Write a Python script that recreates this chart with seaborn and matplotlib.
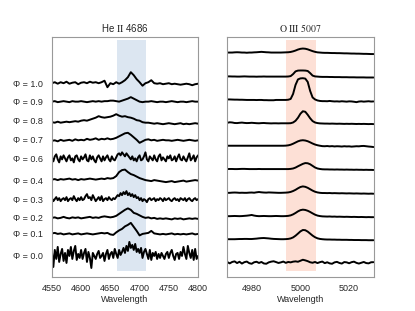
import matplotlib
matplotlib.use("Agg")
import matplotlib.pyplot as plt
import numpy as np
import seaborn as sns

# phases, top to bottom
phases = ["1.0", "0.9", "0.8", "0.7", "0.6", "0.4", "0.3", "0.2", "0.1", "0.0"]

# He II 4686 spectra over 4550-4800 A (flux above each offset)
# quiet ones sampled every 5 A, noisy ones every 2.5 A
he_10 = [0, 1, -0.5, 1, 0, 1.5, -0.5, 0.5, 1, -1,
         0.5, 1, 0, 1.5, 0.5, 1, 0, 1, 2.5, -4,
         0, -1, 1, -0.5, 1, 3, 6, 11, 8, 4,
         1, -2.5, 0, 1, 3, 0, -0.5, 0, -1, -0.5,
         0, -1, -0.5, -1, -1.5, -1, -0.5, -1, -2, -1,
         -0.5]
he_09 = [0, 0.5, -0.5, 0, 0.5, 0, -0.5, 0.5, 0, 0,
         0.5, 0, -0.5, 0, 0.5, 0, 0.5, 0, 0.5, 0.5,
         1, 1, 0.5, 0, 1, 2, 3, 4.5, 3, 1.5,
         0, -0.5, 0, 0, 0.5, 0, -0.5, 0, 0, -0.5,
         0, 0.5, 0, -0.5, 0, 0, -0.5, 0, 0.5, 0,
         0]
he_08 = [-1.5, -2, -1, -2, -1.5, -1, -1.5, -1, -0.5, -1,
         0, 0.5, 0, 1, 2, 3, 4.5, 3.5, 3, 3.5,
         4, 5, 6.5, 5, 4, 4.5, 3.5, 3, 2, 0.5,
         0, -1.5, -2, -2, -2.5, -3, -2.5, -3, -3.5, -3,
         -2.5, -3, -3.5, -3, -2.5, -3.5, -3, -3.5, -3, -2.5,
         -3]
he_07 = [-1.5, -1, -2, -0.5, -1.5, -1, -0.5, -1.5, 0, -1,
         -0.5, -1, 0.5, -0.5, 0, 1, -0.5, 0.5, 0, 1,
         0, 0.5, 1.5, 3, 4.5, 6, 6.5, 4.5, 2, -0.5,
         -3.5, -2, -0.5, 0, -1, -0.5, -1.5, -1, -0.5, -1,
         -1, -1.5, -1, -0.5, -1, -1.5, -1, -0.5, -1, -1.5,
         -1]
he_06 = [1, -3, 2, 4, -1, -4, 2, -1, 3, 0,
         -3, 1, 3, -2, 0, -4, 2, 3, -1, -3,
         2, -1, 1, 4, -2, -3, 3, -1, 2, -2,
         -4, 1, 3, 0, -3, 2, -2, 1, 3, -1,
         -3, 2, -1, -2, 1, 4, 5, 3, 6, 4,
         2, 5, 3, 1, -1, 2, -2, 0, -3, 1,
         3, -2, -1, 2, 6, -1, -3, 2, 0, -2,
         3, -1, -3, 2, 4, -2, 1, -1, -3, 2,
         0, 3, -2, -1, 2, -3, 1, 4, -1, -2,
         2, -1, -3, 1, 5, -2, 0, 3, -3, 1,
         3]
he_04 = [0.5, 1, 0, 1, 0.5, 1, 1.5, 0.5, 1, 0,
         1, 0.5, 1, 1.5, 1, 0.5, 1, 1.5, 1, 2,
         1.5, 2, 4, 8, 10, 10.5, 8, 6, 5, 3.5,
         2, 1, 0, -0.5, -1, 0, -0.5, -1, -1.5, -2,
         -1.5, -1, -2, -1.5, -1, -0.5, -1.5, -1, -0.5, 0,
         -0.5]
he_03 = [1, -2, 0, 2, -1, 1, -2, 0, 1, -1,
         2, -2, 0, 1, -1, 3, 0, -2, 1, -1,
         2, -1, 0, 3, 5, 1, 2, -1, 4, 1,
         -2, 0, 2, -1, 3, -2, 0, 1, -1, 2,
         0, -1, 1, 0, 2, 4, 3, 6, 4, 7,
         5, 8, 4, 6, 3, 5, 2, 4, 1, 2,
         -1, 1, -2, 0, -1, -3, 0, 1, -1, 0,
         1, -2, 0, -1, 1, 0, -2, 1, -1, 0,
         1, -1, -2, 0, 1, -1, 0, -2, 1, 0,
         -1, 1, -2, 0, 1, -1, -2, 0, 1, -1,
         0]
he_02 = [0, 0.5, -0.5, 0, 1, 0, -0.5, 0.5, 0, 0.5,
         -0.5, 0, 0.5, 1, 0, 0.5, 0, 1, 1.5, 1,
         0.5, 1, 2, 4, 6, 8, 9.5, 8, 5, 4,
         2.5, 1, 0, 0.5, -0.5, 0, -1, -0.5, -1, -0.5,
         -1, -1.5, -0.5, -1, -0.5, -1.5, -1, -0.5, -1, -0.5,
         -1]
he_01 = [0.5, 1, 0, 0.5, -0.5, 0, 0.5, -0.5, 0, 0.5,
         -0.5, 0, 0.5, 0, -0.5, 0, 0.5, 1, 0.5, 1,
         -0.5, -1, 1.5, 3.5, 5, 7.5, 9, 11, 7, 3,
         -1.5, 0, 0.5, 1, 3, 0.5, 0, -0.5, 0, -0.5,
         0, 0.5, -0.5, 0, -0.5, 0, -0.5, 0, 0.5, -0.5,
         0]
he_00 = [5, -11, 6, -3, 9, -6, 2, 7, -5, 3,
         -7, 6, 0, 9, -3, 5, 10, -4, 2, -2,
         6, -3, 3, 7, -6, 4, -2, -12, 3, 0,
         -3, 2, 5, -2, 0, 3, -5, 2, 6, -3,
         2, 4, -2, 7, 2, -2, 6, 1, 4, 8,
         3, 10, 5, 14, 8, 11, 6, 12, 4, 7,
         3, 8, -2, 4, 7, 2, -3, 6, -4, 3,
         0, 4, -3, 2, -2, 3, 0, -3, 2, 4,
         -2, 3, 6, 0, -4, 2, 3, -3, 4, 0,
         9, 2, -3, 10, 3, -2, 6, -4, 7, -3,
         0]
heii_flux = [he_10, he_09, he_08, he_07, he_06, he_04, he_03, he_02, he_01, he_00]
heii_offset = [193.2, 174.8, 155.8, 137.2, 118.2, 96.5, 77.5, 58.8, 42.8, 20.8]

# O III 5007 spectra, 4970-5030 A in 1 A steps
o_10 = [0, 0, 0, 0.2, 0.3, 0.2, 0, 0, -0.2, 0,
        0, 0.2, 0.3, 0.5, 0.7, 0.5, 0.3, 0.2, 0, 0,
        0, 0, 0, 0.1, 0.2, 0.3, 0.6, 1.2, 2.0, 3.0,
        3.7, 4.0, 3.8, 3.2, 2.3, 1.4, 0.7, 0.2, 0, -0.2,
        -0.3, -0.3, -0.4, -0.5, -0.5, -0.6, -0.6, -0.7, -0.8, -0.8,
        -0.9, -1.0, -1.0, -1.1, -1.1, -1.2, -1.3, -1.3, -1.4, -1.5,
        -1.5]
o_09 = [0.2, 0.2, 0.1, 0.1, 0, 0, 0.1, 0.2, 0.1, 0,
        0, 0, -0.1, 0, 0, 0.1, 0, 0, 0, 0,
        0, 0, 0, 0, 0, 0.1, 0.5, 2.5, 5.2, 6.0,
        6.1, 6.1, 6.0, 5.6, 3.5, 1.0, 0.2, 0, -0.2, -0.3,
        -0.3, -0.3, -0.4, -0.4, -0.5, -0.5, -0.5, -0.6, -0.6, -0.6,
        -0.7, -0.7, -0.7, -0.8, -0.8, -0.8, -0.8, -0.9, -0.9, -0.9,
        -0.9]
o_08 = [0.5, 0.5, 0.4, 0.3, 0.3, 0.2, 0.2, 0.1, 0, 0,
        0, 0, -0.1, 0, 0, -0.2, -0.2, -0.3, -0.3, -0.3,
        0, 0, 0, 0, 0, 0.2, 1.0, 6, 15, 20.5,
        21.5, 21.7, 21.3, 18, 9, 2.5, 0.5, -0.5, -1.0, -1.2,
        -1.2, -1.3, -1.0, -1.3, -1.5, -1.4, -1.6, -1.3, -1.5, -1.7,
        -1.4, -1.5, -1.8, -2.2, -1.6, -1.4, -1.7, -1.5, -1.3, -1.6,
        -1.5]
o_07 = [0.5, 1.0, 0.8, 0.3, 0.2, 0.5, 0.7, 0.4, 0.2, 0.3,
        0.5, 0.3, 0.1, 0, 0.2, 0.3, 0.1, 0, -0.1, 0,
        0, -0.1, 0, 0, 0, 0, 0.1, 0.8, 2.5, 5.5,
        9.5, 12.0, 11.5, 8.5, 5.0, 2.2, 0.8, 0.2, -0.1, -0.2,
        -0.3, -0.3, -0.4, -0.3, -0.4, -0.5, -0.4, -0.5, -0.6, -0.5,
        -0.6, -0.5, -0.6, -0.7, -0.6, -0.7, -0.6, -0.7, -0.8, -0.7,
        -0.8]
o_06 = [0, 0, 0, 0, 0, 0, 0, 0, 0, 0,
        0, 0, 0, 0, 0, 0, 0, 0, 0, 0,
        0, 0, 0, 0, 0.1, 0.4, 1.0, 2.0, 3.2, 4.4,
        5.2, 5.5, 5.2, 4.5, 3.4, 2.2, 1.2, 0.5, 0, -0.4,
        -0.5, -0.3, -0.6, -0.4, -0.7, -0.5, -0.6, -0.8, -0.5, -0.7,
        -0.6, -0.9, -0.7, -0.5, -0.6, -0.3, -0.2, -0.5, -0.8, -1.0,
        -1.3]
o_04 = [0, 0.1, 0.1, 0, 0, 0.1, 0.2, 0.2, 0.1, 0,
        0, 0, 0, 0.1, 0, 0, 0, 0, 0, 0,
        0, 0, 0, 0, 0, 0, 0.2, 0.6, 1.5, 2.8,
        4.0, 5.2, 6.0, 5.8, 4.8, 3.2, 1.6, 0.6, 0.1, -0.2,
        -0.3, -0.3, -0.4, -0.4, -0.5, -0.4, -0.5, -0.5, -0.6, -0.5,
        -0.6, -0.6, -0.7, -0.6, -0.7, -0.7, -0.8, -0.7, -0.8, -0.8,
        -0.9]
o_03 = [0, 0, 0.2, 0.3, 0.2, 0, 0.1, 0, 0, 0.2,
        0.3, 0.1, 0.5, 0.8, 0.5, 0.3, 0.2, 0.4, 0.3, 0.2,
        0.1, 0, 0, 0.1, 0.2, 0.4, 0.9, 1.8, 3.0, 4.5,
        5.8, 6.4, 6.0, 5.0, 3.6, 2.2, 1.1, 0.4, 0, -0.2,
        -0.2, -0.3, -0.2, -0.4, -0.3, -0.4, -0.5, -0.4, -0.5, -0.6,
        -0.5, -0.6, -0.7, -0.6, -0.7, -0.8, -0.7, -0.8, -0.9, -0.8,
        -0.9]
o_02 = [0, 0, 0.1, 0.2, 0.1, 0, 0.1, 0.3, 0.5, 0.8,
        1.2, 0.6, 0.2, 0, 0.1, 0.2, 0.1, 0, 0, 0.1,
        0.2, 0.1, 0, 0, 0.1, 0.3, 0.8, 1.8, 3.2, 4.8,
        6.0, 6.5, 6.2, 5.4, 4.2, 2.8, 1.5, 0.6, 0.1, -0.2,
        -0.3, -0.4, -0.3, -0.5, -0.4, -0.6, -0.5, -0.6, -0.7, -0.6,
        -0.7, -0.8, -0.7, -0.8, -0.9, -0.8, -0.9, -1.0, -0.9, -1.0,
        -1.0]
o_01 = [0, 0, 0, 0, 0.1, 0.2, 0.2, 0.3, 0.3, 0.2,
        0.2, 0.4, 0.6, 0.9, 1.1, 1.2, 1.0, 0.8, 0.5, 0.3,
        0.2, 0.1, 0, 0, 0.1, 0.3, 0.8, 1.8, 3.5, 5.6,
        7.8, 9.2, 9.0, 7.6, 5.6, 3.6, 2.0, 0.9, 0.3, 0,
        -0.2, -0.3, -0.3, -0.4, -0.4, -0.5, -0.5, -0.6, -0.6, -0.6,
        -0.7, -0.7, -0.8, -0.8, -0.8, -0.9, -0.9, -0.9, -1.0, -1.0,
        -1.0]
o_00 = [0.5, -0.8, 0.6, 1.2, -0.5, 0.8, -1.0, 0.4, 1.0, -0.6,
        -1.2, 0.3, 0.8, -0.4, 0.6, -0.9, -1.2, 0.2, 0.9, 1.3,
        0.5, -0.4, 0.2, 1.0, -0.3, 0.6, 0.2, 0.9, 1.2, 0.8,
        1.8, 2.8, 2.2, 1.4, 0.3, -0.2, 0.6, -0.5, 0.4, 1.0,
        -0.6, 0.3, -0.8, -1.2, 0.2, 0.7, -0.4, -1.0, 0.5, 0.2,
        -0.7, 0.4, 0.9, -0.3, -1.0, -0.2, 0.6, -0.5, -0.8, 0.3,
        0.4]
oiii_flux = [o_10, o_09, o_08, o_07, o_06, o_04, o_03, o_02, o_01, o_00]
oiii_offset = [223.8, 199.8, 176.5, 153.2, 130.8, 107.5, 83.8, 60.5, 37.5, 14.2]

heii_band = (4661, 4711)
oiii_band = (4994, 5006.5)

sns.set_style("white")
plt.rcParams["font.family"] = ["Liberation Sans", "DejaVu Sans"]
plt.rcParams["mathtext.fontset"] = "stix"
plt.rcParams["font.size"] = 6.5

fig, (ax1, ax2) = plt.subplots(1, 2, figsize=(4.15, 3.11), dpi=100)

ax1.axvspan(*heii_band, ymin=0.023, ymax=0.99, color="#dce6f1", lw=0)
for flux, off in zip(heii_flux, heii_offset):
    wl = np.linspace(4550, 4800, len(flux))
    sns.lineplot(x=wl, y=np.array(flux) + off, ax=ax1, color="black", lw=1.4)
ax1.set_xlim(4550, 4800)
ax1.set_ylim(0, 239)
ax1.set_xticks(np.arange(4550, 4801, 50))
ax1.set_yticks(heii_offset, labels=[f"Φ = {p}" for p in phases])
ax1.set_title(r"He $\rm{II}$ 4686", fontsize=7, pad=4)

ax2.axvspan(*oiii_band, ymin=0.023, ymax=0.99, color="#fde0d6", lw=0)
for flux, off in zip(oiii_flux, oiii_offset):
    wl = np.linspace(4970, 5030, len(flux))
    sns.lineplot(x=wl, y=np.array(flux) + off, ax=ax2, color="black", lw=1.4)
ax2.set_xlim(4970, 5030)
ax2.set_ylim(0, 239)
ax2.set_xticks([4980, 5000, 5020])
ax2.set_yticks([])
ax2.set_title(r"$\rm{O\ III\ 5007}$", fontsize=7, pad=4)

for ax in (ax1, ax2):
    ax.set_xlabel("Wavelength", fontsize=6.5, labelpad=1)
    ax.tick_params(axis="x", length=2.5, width=0.6, color="0.5", pad=3, labelsize=6.5)
    ax.tick_params(axis="y", length=0, pad=6.5, labelsize=6.5)
    for sp in ax.spines.values():
        sp.set_color("0.6")
        sp.set_linewidth(0.8)

fig.savefig("out.png", dpi=100)
